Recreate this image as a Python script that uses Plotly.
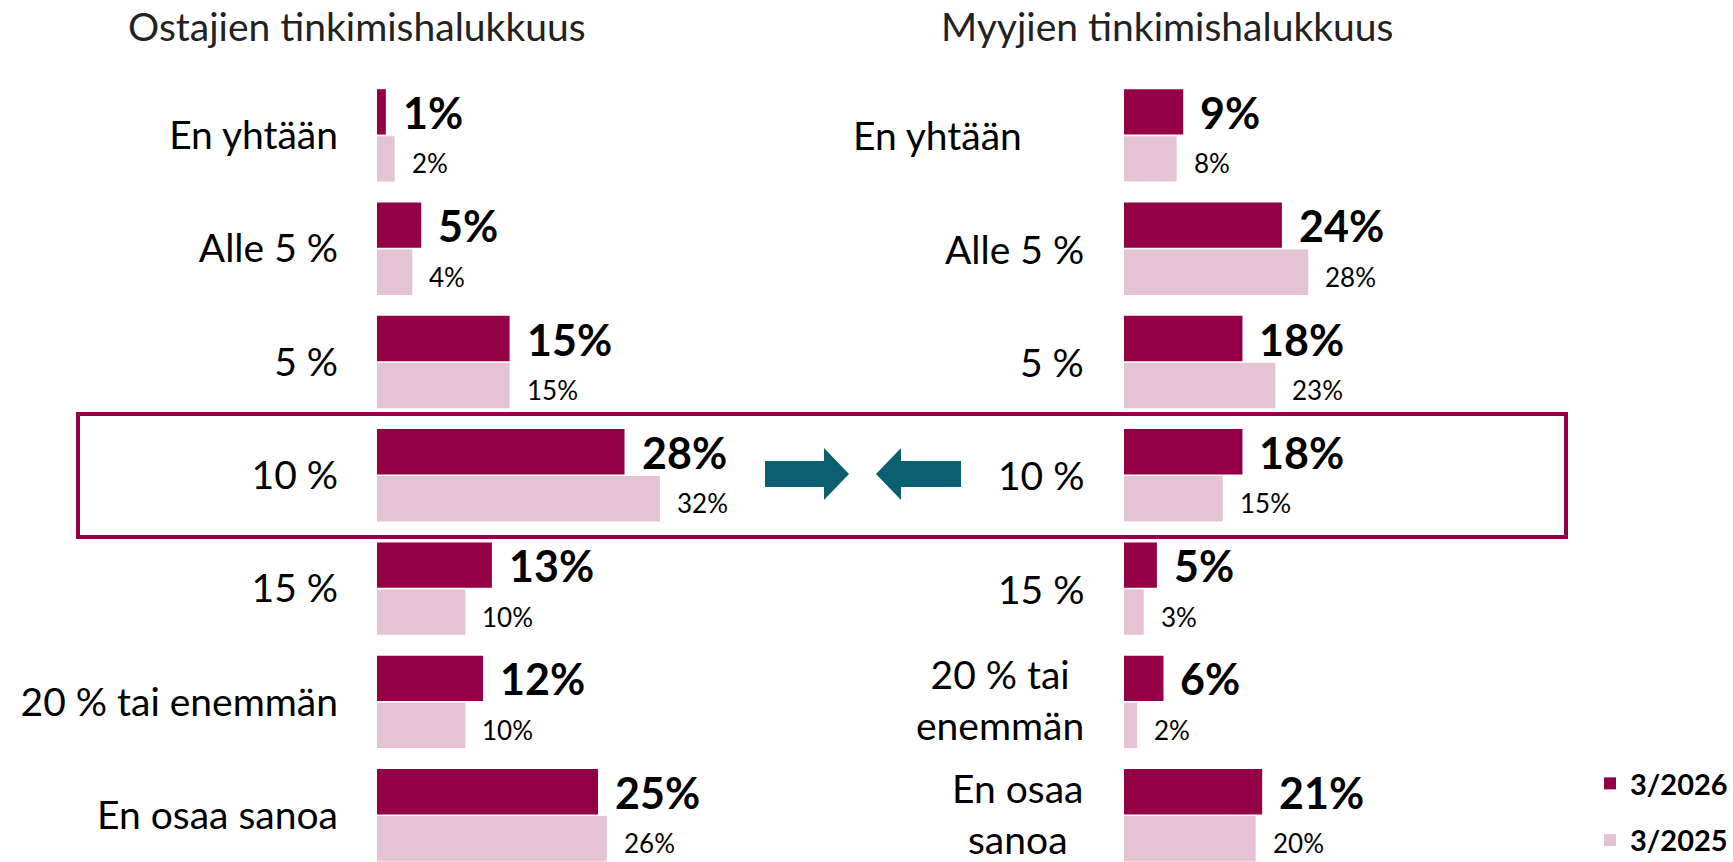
import plotly.graph_objects as go

# ---------------- data ----------------
categories = ["En yhtään", "Alle 5 %", "5 %", "10 %", "15 %", "20 % tai enemmän", "En osaa sanoa"]
right_labels = ["En yhtään", "Alle 5 %", "5 %", "10 %", "15 %", "20 % tai<br>enemmän", "En osaa<br>sanoa"]
buyers_2026 = [1, 5, 15, 28, 13, 12, 25]
buyers_2025 = [2, 4, 15, 32, 10, 10, 26]
sellers_2026 = [9, 24, 18, 18, 5, 6, 21]
sellers_2025 = [8, 28, 23, 15, 3, 2, 20]
series_names = ["3/2026", "3/2025"]
titles = ["Ostajien tinkimishalukkuus", "Myyjien tinkimishalukkuus"]
highlight_category = "10 %"

# ---------------- style ----------------
W, H = 1733, 862
DARK = "#930046"
LIGHT = "#E6C3D4"
TEAL = "#0A6070"
FONT = "Lato"

def px(x):
    return x / W

def py(y):
    return 1 - y / H

fig = go.Figure()

# left panel
fig.add_trace(go.Bar(y=categories, x=buyers_2026, orientation="h", name=series_names[0],
                     marker=dict(color=DARK, line=dict(width=0)), xaxis="x", yaxis="y",
                     legendgroup="a", showlegend=True, hoverinfo="skip"))
fig.add_trace(go.Bar(y=categories, x=buyers_2025, orientation="h", name=series_names[1],
                     marker=dict(color=LIGHT, line=dict(width=0)), xaxis="x", yaxis="y",
                     legendgroup="b", showlegend=True, hoverinfo="skip"))
# right panel
fig.add_trace(go.Bar(y=categories, x=sellers_2026, orientation="h", name=series_names[0],
                     marker=dict(color=DARK, line=dict(width=0)), xaxis="x2", yaxis="y2",
                     legendgroup="a", showlegend=False, hoverinfo="skip"))
fig.add_trace(go.Bar(y=categories, x=sellers_2025, orientation="h", name=series_names[1],
                     marker=dict(color=LIGHT, line=dict(width=0)), xaxis="x2", yaxis="y2",
                     legendgroup="b", showlegend=False, hoverinfo="skip"))

annotations = []
# value labels
for xref, yref, s_new, s_old in (("x", "y", buyers_2026, buyers_2025), ("x2", "y2", sellers_2026, sellers_2025)):
    for cat, vn, vo in zip(categories, s_new, s_old):
        annotations.append(dict(x=vn, y=cat, xref=xref, yref=yref, text=f"<b>{vn}%</b>",
                                xanchor="left", yanchor="middle", xshift=15, yshift=23,
                                showarrow=False, font=dict(family=FONT, size=43, color="black")))
        annotations.append(dict(x=vo, y=cat, xref=xref, yref=yref, text=f"{vo}%",
                                xanchor="left", yanchor="middle", xshift=15, yshift=-28,
                                showarrow=False, font=dict(family=FONT, size=26, color="black")))

# right panel category labels
label_shift = {0: -62}
for i, (cat, lab) in enumerate(zip(categories, right_labels)):
    annotations.append(dict(x=px(1086), y=cat, xref="paper", yref="y2", text=lab,
                            xanchor="right", yanchor="middle", align="center",
                            xshift=label_shift.get(i, 0), yshift=2 if "<br>" in lab else 0,
                            showarrow=False,
                            font=dict(family=FONT, size=39, color="black")))

# titles
for t, cx in zip(titles, (357, 1167)):
    annotations.append(dict(x=px(cx), y=py(26), xref="paper", yref="paper", text=t,
                            xanchor="center", yanchor="middle", showarrow=False,
                            font=dict(family=FONT, size=39, color="#222222")))

shapes = []
hi = categories.index(highlight_category)
shapes.append(dict(type="rect", xref="paper", yref="y", x0=px(78), x1=px(1566),
                   y0=hi - 0.54, y1=hi + 0.545, line=dict(color=DARK, width=4),
                   fillcolor="rgba(0,0,0,0)", layer="above"))

def arrow_path(pts):
    return "M " + " L ".join(f"{px(a):.5f},{py(b):.5f}" for a, b in pts) + " Z"

right_arrow = [(765, 461), (824, 461), (824, 448), (849, 474), (824, 500), (824, 487), (765, 487)]
left_arrow = [(961, 461), (901, 461), (901, 448), (876, 474), (901, 500), (901, 487), (961, 487)]
for pts in (right_arrow, left_arrow):
    shapes.append(dict(type="path", xref="paper", yref="paper", path=arrow_path(pts),
                       fillcolor=TEAL, line=dict(width=0)))

yrange = [6.413, -1.195]
fig.update_layout(
    width=W, height=H,
    margin=dict(l=0, r=0, t=0, b=0, autoexpand=False),
    paper_bgcolor="white", plot_bgcolor="white",
    barmode="group", bargap=0.17, bargroupgap=0.035,
    xaxis=dict(domain=[px(377), px(760)], range=[0, 383 / 8.84], visible=False, fixedrange=True),
    xaxis2=dict(domain=[px(1124), px(1500)], range=[0, 376 / 6.58], visible=False, fixedrange=True),
    yaxis=dict(type="category", categoryorder="array", categoryarray=categories, range=yrange,
               anchor="x", showgrid=False, zeroline=False, showline=False, ticks="",
               ticklabelstandoff=38, tickfont=dict(family=FONT, size=39, color="black"),
               domain=[0, 1], fixedrange=True),
    yaxis2=dict(type="category", categoryorder="array", categoryarray=categories, range=yrange,
                anchor="x2", showgrid=False, zeroline=False, showline=False, ticks="",
                showticklabels=False, domain=[0, 1], fixedrange=True),
    showlegend=True,
    legend=dict(x=px(1590), xanchor="left", y=py(758), yanchor="top",
                font=dict(family=FONT, size=29, color="black", weight="bold"),
                bgcolor="rgba(0,0,0,0)", tracegroupgap=16, itemclick=False, itemdoubleclick=False),
    annotations=annotations,
    shapes=shapes,
)

fig.write_html("out.html", config={"displayModeBar": False},
               post_script="document.body.style.margin='0px';document.body.style.overflow='hidden';")
